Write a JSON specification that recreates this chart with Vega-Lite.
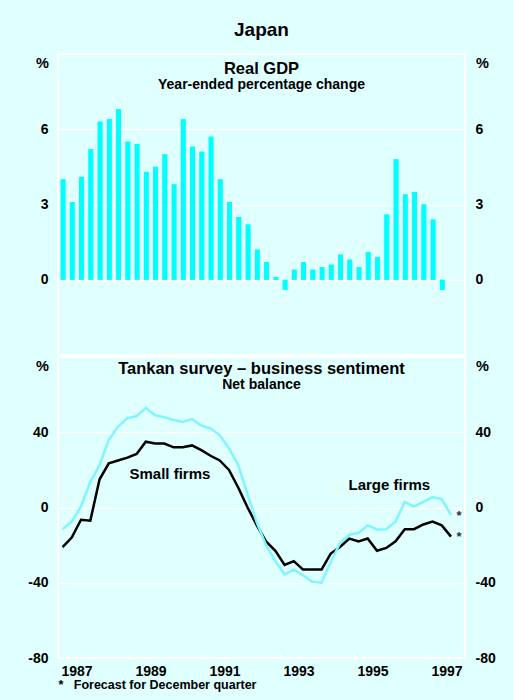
{
  "$schema": "https://vega.github.io/schema/vega-lite/v6.json",
  "background": "#e0ffff",
  "padding": {"left": 26, "right": 20, "top": 21, "bottom": 8},
  "title": {"text": "Japan", "fontSize": 19, "offset": 13, "anchor": "middle", "frame": "group"},
  "datasets": {
    "gdp": [
      {"date": "1987-01-01", "gdp": 4.0}, {"date": "1987-04-01", "gdp": 3.1}, {"date": "1987-07-01", "gdp": 4.1}, {"date": "1987-10-01", "gdp": 5.2},
      {"date": "1988-01-01", "gdp": 6.3}, {"date": "1988-04-01", "gdp": 6.4}, {"date": "1988-07-01", "gdp": 6.8}, {"date": "1988-10-01", "gdp": 5.5},
      {"date": "1989-01-01", "gdp": 5.4}, {"date": "1989-04-01", "gdp": 4.3}, {"date": "1989-07-01", "gdp": 4.5}, {"date": "1989-10-01", "gdp": 5.0},
      {"date": "1990-01-01", "gdp": 3.8}, {"date": "1990-04-01", "gdp": 6.4}, {"date": "1990-07-01", "gdp": 5.3}, {"date": "1990-10-01", "gdp": 5.1},
      {"date": "1991-01-01", "gdp": 5.7}, {"date": "1991-04-01", "gdp": 4.0}, {"date": "1991-07-01", "gdp": 3.1}, {"date": "1991-10-01", "gdp": 2.5},
      {"date": "1992-01-01", "gdp": 2.2}, {"date": "1992-04-01", "gdp": 1.2}, {"date": "1992-07-01", "gdp": 0.7}, {"date": "1992-10-01", "gdp": 0.1},
      {"date": "1993-01-01", "gdp": -0.4}, {"date": "1993-04-01", "gdp": 0.4}, {"date": "1993-07-01", "gdp": 0.7}, {"date": "1993-10-01", "gdp": 0.4},
      {"date": "1994-01-01", "gdp": 0.5}, {"date": "1994-04-01", "gdp": 0.6}, {"date": "1994-07-01", "gdp": 1.0}, {"date": "1994-10-01", "gdp": 0.8},
      {"date": "1995-01-01", "gdp": 0.5}, {"date": "1995-04-01", "gdp": 1.1}, {"date": "1995-07-01", "gdp": 0.9}, {"date": "1995-10-01", "gdp": 2.6},
      {"date": "1996-01-01", "gdp": 4.8}, {"date": "1996-04-01", "gdp": 3.4}, {"date": "1996-07-01", "gdp": 3.5}, {"date": "1996-10-01", "gdp": 3.0},
      {"date": "1997-01-01", "gdp": 2.4}, {"date": "1997-04-01", "gdp": -0.4}
    ],
    "tankan": [
      {"date": "1987-01-01", "series": "Small firms", "value": -21}, {"date": "1987-04-01", "series": "Small firms", "value": -16}, {"date": "1987-07-01", "series": "Small firms", "value": -6.5}, {"date": "1987-10-01", "series": "Small firms", "value": -7},
      {"date": "1988-01-01", "series": "Small firms", "value": 15}, {"date": "1988-04-01", "series": "Small firms", "value": 23.5}, {"date": "1988-07-01", "series": "Small firms", "value": 25}, {"date": "1988-10-01", "series": "Small firms", "value": 26.5},
      {"date": "1989-01-01", "series": "Small firms", "value": 28.5}, {"date": "1989-04-01", "series": "Small firms", "value": 35}, {"date": "1989-07-01", "series": "Small firms", "value": 34}, {"date": "1989-10-01", "series": "Small firms", "value": 34},
      {"date": "1990-01-01", "series": "Small firms", "value": 32}, {"date": "1990-04-01", "series": "Small firms", "value": 32}, {"date": "1990-07-01", "series": "Small firms", "value": 33}, {"date": "1990-10-01", "series": "Small firms", "value": 30.5},
      {"date": "1991-01-01", "series": "Small firms", "value": 27.5}, {"date": "1991-04-01", "series": "Small firms", "value": 25}, {"date": "1991-07-01", "series": "Small firms", "value": 20}, {"date": "1991-10-01", "series": "Small firms", "value": 10.5},
      {"date": "1992-01-01", "series": "Small firms", "value": 0}, {"date": "1992-04-01", "series": "Small firms", "value": -9.5}, {"date": "1992-07-01", "series": "Small firms", "value": -18}, {"date": "1992-10-01", "series": "Small firms", "value": -23},
      {"date": "1993-01-01", "series": "Small firms", "value": -30.5}, {"date": "1993-04-01", "series": "Small firms", "value": -28.5}, {"date": "1993-07-01", "series": "Small firms", "value": -33}, {"date": "1993-10-01", "series": "Small firms", "value": -33},
      {"date": "1994-01-01", "series": "Small firms", "value": -33}, {"date": "1994-04-01", "series": "Small firms", "value": -24.5}, {"date": "1994-07-01", "series": "Small firms", "value": -21}, {"date": "1994-10-01", "series": "Small firms", "value": -16.5},
      {"date": "1995-01-01", "series": "Small firms", "value": -18}, {"date": "1995-04-01", "series": "Small firms", "value": -16.5}, {"date": "1995-07-01", "series": "Small firms", "value": -23}, {"date": "1995-10-01", "series": "Small firms", "value": -21.5},
      {"date": "1996-01-01", "series": "Small firms", "value": -18}, {"date": "1996-04-01", "series": "Small firms", "value": -11.5}, {"date": "1996-07-01", "series": "Small firms", "value": -11.5}, {"date": "1996-10-01", "series": "Small firms", "value": -9},
      {"date": "1997-01-01", "series": "Small firms", "value": -7.5}, {"date": "1997-04-01", "series": "Small firms", "value": -9.5}, {"date": "1997-07-01", "series": "Small firms", "value": -15.5},
      {"date": "1987-01-01", "series": "Large firms", "value": -11.5}, {"date": "1987-04-01", "series": "Large firms", "value": -7.5}, {"date": "1987-07-01", "series": "Large firms", "value": 0.5}, {"date": "1987-10-01", "series": "Large firms", "value": 13.5},
      {"date": "1988-01-01", "series": "Large firms", "value": 22.5}, {"date": "1988-04-01", "series": "Large firms", "value": 36}, {"date": "1988-07-01", "series": "Large firms", "value": 43}, {"date": "1988-10-01", "series": "Large firms", "value": 47.5},
      {"date": "1989-01-01", "series": "Large firms", "value": 48.5}, {"date": "1989-04-01", "series": "Large firms", "value": 53}, {"date": "1989-07-01", "series": "Large firms", "value": 49}, {"date": "1989-10-01", "series": "Large firms", "value": 48},
      {"date": "1990-01-01", "series": "Large firms", "value": 46.5}, {"date": "1990-04-01", "series": "Large firms", "value": 45.5}, {"date": "1990-07-01", "series": "Large firms", "value": 47}, {"date": "1990-10-01", "series": "Large firms", "value": 43.5},
      {"date": "1991-01-01", "series": "Large firms", "value": 42}, {"date": "1991-04-01", "series": "Large firms", "value": 38.5}, {"date": "1991-07-01", "series": "Large firms", "value": 31.5}, {"date": "1991-10-01", "series": "Large firms", "value": 22.5},
      {"date": "1992-01-01", "series": "Large firms", "value": 7}, {"date": "1992-04-01", "series": "Large firms", "value": -8}, {"date": "1992-07-01", "series": "Large firms", "value": -20}, {"date": "1992-10-01", "series": "Large firms", "value": -28.5},
      {"date": "1993-01-01", "series": "Large firms", "value": -35.5}, {"date": "1993-04-01", "series": "Large firms", "value": -33}, {"date": "1993-07-01", "series": "Large firms", "value": -36}, {"date": "1993-10-01", "series": "Large firms", "value": -39.5},
      {"date": "1994-01-01", "series": "Large firms", "value": -40}, {"date": "1994-04-01", "series": "Large firms", "value": -29}, {"date": "1994-07-01", "series": "Large firms", "value": -19}, {"date": "1994-10-01", "series": "Large firms", "value": -14.5},
      {"date": "1995-01-01", "series": "Large firms", "value": -13.5}, {"date": "1995-04-01", "series": "Large firms", "value": -9.5}, {"date": "1995-07-01", "series": "Large firms", "value": -11.7}, {"date": "1995-10-01", "series": "Large firms", "value": -11.5},
      {"date": "1996-01-01", "series": "Large firms", "value": -7.5}, {"date": "1996-04-01", "series": "Large firms", "value": 3}, {"date": "1996-07-01", "series": "Large firms", "value": 0.5}, {"date": "1996-10-01", "series": "Large firms", "value": 3},
      {"date": "1997-01-01", "series": "Large firms", "value": 5.5}, {"date": "1997-04-01", "series": "Large firms", "value": 4.5}, {"date": "1997-07-01", "series": "Large firms", "value": -4}
    ],
    "labels": [
      {"date": "1990-01-10", "value": 18, "label": "Small firms"},
      {"date": "1995-12-16", "value": 11.8, "label": "Large firms"}
    ],
    "stars": [
      {"date": "1997-07-01", "value": -4, "label": "*"},
      {"date": "1997-07-01", "value": -15.5, "label": "*"}
    ]
  },
  "spacing": 0,
  "vconcat": [
    {
      "width": 407,
      "height": 301,
      "data": {"name": "gdp"},
      "title": {"text": "Real GDP", "subtitle": "Year-ended percentage change", "offset": -38, "frame": "group"},
      "layer": [
        {
          "mark": {"type": "bar", "color": "#00ffff", "width": {"band": 0.62}},
          "encoding": {
            "x": {"field": "date", "type": "temporal", "timeUnit": "utcyearquarter",
                  "scale": {"type": "utc", "domain": [{"year": 1987, "month": 1, "date": 1, "utc": true}, {"year": 1998, "month": 1, "date": 1, "utc": true}]},
                  "axis": null},
            "y": {"field": "gdp", "type": "quantitative", "scale": {"domain": [-3, 9], "nice": false, "zero": false},
                  "axis": {"orient": "left", "values": [0, 3, 6], "grid": true, "gridColor": "white", "gridWidth": 1.5, "ticks": false, "domain": false, "labelPadding": 10,
                           "title": "%", "titleAngle": 0, "titleX": -16, "titleY": 9.5, "titleAlign": "center", "titleBaseline": "middle"}}
          }
        },
        {
          "mark": {"type": "bar", "color": "#00ffff", "width": {"band": 0.62}},
          "encoding": {
            "x": {"field": "date", "type": "temporal", "timeUnit": "utcyearquarter", "axis": null},
            "y": {"field": "gdp", "type": "quantitative",
                  "axis": {"orient": "right", "values": [0, 3, 6], "grid": false, "ticks": false, "domain": false, "labelPadding": 10,
                           "title": "%", "titleAngle": 0, "titleX": 17, "titleY": 9.5, "titleAlign": "center", "titleBaseline": "middle"}}
          }
        }
      ],
      "resolve": {"axis": {"y": "independent"}}
    },
    {
      "width": 407,
      "height": 301,
      "title": {"text": "Tankan survey – business sentiment", "subtitle": "Net balance", "offset": -35, "frame": "group"},
      "layer": [
        {
          "data": {"name": "tankan"},
          "mark": {"type": "line", "strokeWidth": 2.5},
          "encoding": {
            "x": {"field": "date", "type": "temporal", "timeUnit": "utcyearquarter", "bandPosition": 0.5,
                  "scale": {"type": "utc", "domain": [{"year": 1987, "month": 1, "date": 1, "utc": true}, {"year": 1998, "month": 1, "date": 1, "utc": true}]},
                  "axis": {"orient": "bottom", "grid": false, "domain": false, "tickColor": "white", "tickSize": -6, "tickWidth": 1.5, "labelPadding": 12,
                           "labelFlush": false, "labelOverlap": false, "labelBound": false, "labelOffset": 18.5,
                           "values": [{"year": 1987, "month": 1, "date": 1, "utc": true}, {"year": 1988, "month": 1, "date": 1, "utc": true}, {"year": 1989, "month": 1, "date": 1, "utc": true}, {"year": 1990, "month": 1, "date": 1, "utc": true}, {"year": 1991, "month": 1, "date": 1, "utc": true}, {"year": 1992, "month": 1, "date": 1, "utc": true}, {"year": 1993, "month": 1, "date": 1, "utc": true}, {"year": 1994, "month": 1, "date": 1, "utc": true}, {"year": 1995, "month": 1, "date": 1, "utc": true}, {"year": 1996, "month": 1, "date": 1, "utc": true}, {"year": 1997, "month": 1, "date": 1, "utc": true}, {"year": 1998, "month": 1, "date": 1, "utc": true}],
                           "labelExpr": "utcyear(datum.value) % 2 == 1 && utcyear(datum.value) < 1998 ? utcFormat(datum.value, '%Y') : ''",
                           "title": "*\u00a0\u00a0\u00a0Forecast for December quarter", "titleX": 0, "titleY": 30, "titleAlign": "left", "titleAnchor": "start", "titleBaseline": "alphabetic", "titleFontSize": 12.5}},
            "y": {"field": "value", "type": "quantitative", "scale": {"domain": [-80, 80], "nice": false},
                  "axis": {"orient": "left", "values": [-80, -40, 0, 40], "grid": true, "gridColor": "white", "gridWidth": 1.5, "ticks": false, "domain": false, "labelPadding": 10,
                           "labelExpr": "datum.value < 0 ? '-' + abs(datum.value) : '' + datum.value",
                           "title": "%", "titleAngle": 0, "titleX": -16, "titleY": 9.5, "titleAlign": "center", "titleBaseline": "middle"}},
            "color": {"field": "series", "type": "nominal", "scale": {"domain": ["Small firms", "Large firms"], "range": ["#000000", "#7ff6ff"]}, "legend": null},
            "order": {"field": "date", "type": "temporal"}
          }
        },
        {
          "data": {"name": "labels"},
          "mark": {"type": "text", "fontSize": 15, "fontWeight": "bold", "align": "center", "baseline": "middle", "color": "black"},
          "encoding": {
            "x": {"field": "date", "type": "temporal"},
            "y": {"field": "value", "type": "quantitative", "axis": null},
            "text": {"field": "label"}
          }
        },
        {
          "data": {"name": "stars"},
          "mark": {"type": "text", "fontSize": 13, "fontWeight": "bold", "align": "center", "baseline": "middle", "color": "#333333", "dx": 8, "dy": 0.5},
          "encoding": {
            "x": {"field": "date", "type": "temporal", "timeUnit": "utcyearquarter", "bandPosition": 0.5},
            "y": {"field": "value", "type": "quantitative", "axis": null},
            "text": {"field": "label"}
          }
        },
        {
          "data": {"name": "stars"},
          "mark": {"type": "text", "opacity": 0},
          "encoding": {
            "x": {"field": "date", "type": "temporal", "timeUnit": "utcyearquarter", "bandPosition": 0.5},
            "y": {"field": "value", "type": "quantitative",
                  "axis": {"orient": "right", "values": [-80, -40, 0, 40], "grid": false, "ticks": false, "domain": false, "labelPadding": 10,
                           "labelExpr": "datum.value < 0 ? '-' + abs(datum.value) : '' + datum.value",
                           "title": "%", "titleAngle": 0, "titleX": 17, "titleY": 9.5, "titleAlign": "center", "titleBaseline": "middle"}},
            "text": {"field": "label"}
          }
        }
      ],
      "resolve": {"axis": {"y": "independent"}}
    }
  ],
  "config": {
    "font": "Liberation Sans",
    "view": {"stroke": "white", "strokeWidth": 2},
    "axis": {"labelFont": "Liberation Sans", "labelFontSize": 14, "labelFontWeight": "bold", "labelColor": "black",
             "titleFont": "Liberation Sans", "titleFontSize": 14.5, "titleFontWeight": "bold", "titleColor": "black"},
    "title": {"font": "Liberation Sans", "fontSize": 16.5, "fontWeight": "bold", "color": "black",
              "subtitleFont": "Liberation Sans", "subtitleFontSize": 14, "subtitleFontWeight": "bold", "subtitleColor": "black", "subtitlePadding": 1}
  }
}
